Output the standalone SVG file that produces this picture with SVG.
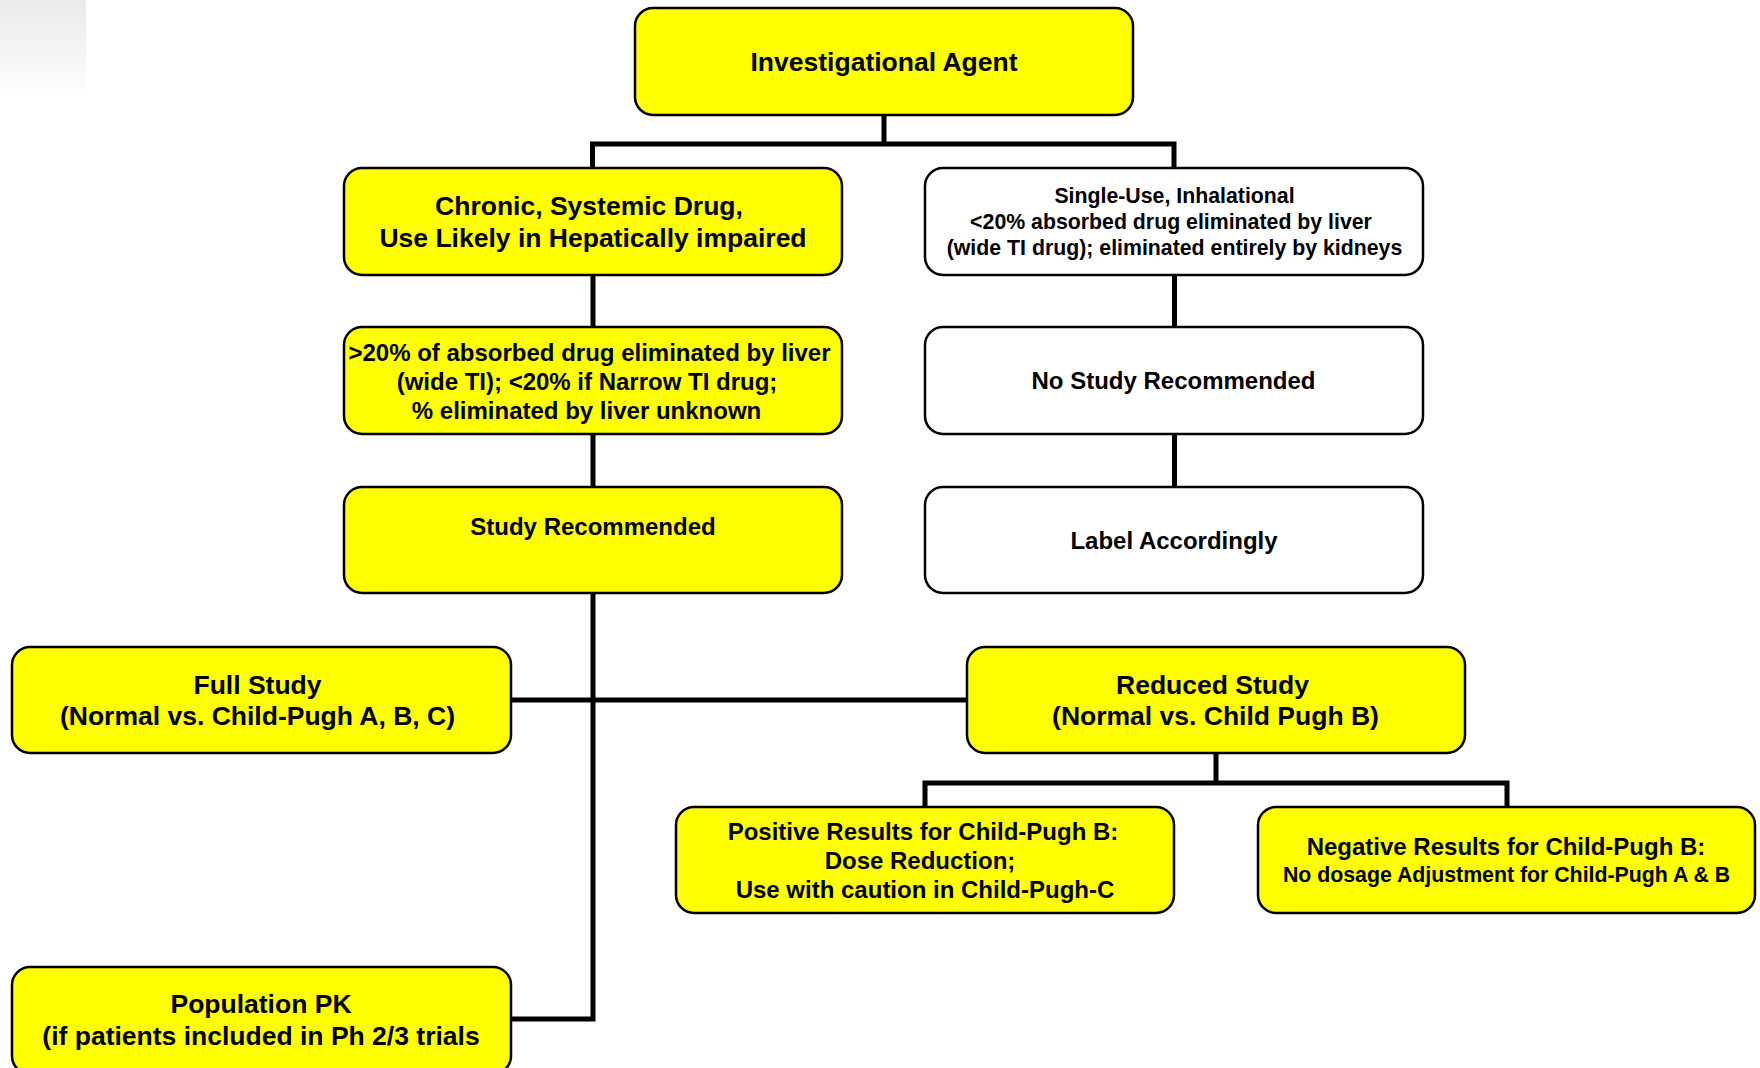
<svg xmlns="http://www.w3.org/2000/svg" width="1760" height="1068" viewBox="0 0 1760 1068">
<defs>
<linearGradient id="corner" x1="0" y1="0" x2="0" y2="1">
<stop offset="0" stop-color="#eaeaea"/>
<stop offset="1" stop-color="#ffffff"/>
</linearGradient>
</defs>
<style>
.box{stroke:#000;stroke-width:2.5}
.y{fill:#ffff00}
.w{fill:#ffffff}
.t{font-family:"Liberation Sans",Arial,sans-serif;font-weight:bold;fill:#000;text-anchor:middle}
.L{font-size:26.5px}
.M{font-size:24px}
.S{font-size:21.3px}
.conn{stroke:#000;stroke-width:5;fill:none;stroke-linecap:butt;stroke-linejoin:miter}
</style>
<rect x="0" y="0" width="86" height="100" fill="url(#corner)"/>
<g id="connectors" class="conn">
<path d="M884 115V144M590 144H1176.5M592.5 141.5V168M1174 141.5V168"/>
<path d="M593 275V327M593 434V487M593 593V1021.5M511 1019H595.5M511 700H967"/>
<path d="M1174.5 275V327M1174.5 434V487"/>
<path d="M1216 753V783M922.5 783H1509.5M925 780.5V807M1507 780.5V807"/>
</g>
<g id="n-agent"><rect class="box y" x="635" y="8" width="498" height="107" rx="18"/>
<text class="t L" x="884" y="71">Investigational Agent</text></g>
<g id="n-chronic"><rect class="box y" x="344" y="168" width="498" height="107" rx="18"/>
<text class="t L" x="589" y="215">Chronic, Systemic Drug,</text>
<text class="t L" x="593" y="247">Use Likely in Hepatically impaired</text></g>
<g id="n-single"><rect class="box w" x="925" y="168" width="498" height="107" rx="18"/>
<text class="t S" x="1174.5" y="203">Single-Use, Inhalational</text>
<text class="t S" x="1171" y="229">&lt;20% absorbed drug eliminated by liver</text>
<text class="t S" x="1174.5" y="255">(wide TI drug); eliminated entirely by kidneys</text></g>
<g id="n-liver"><rect class="box y" x="344" y="327" width="498" height="107" rx="18"/>
<text class="t M" x="589.5" y="361">&gt;20% of absorbed drug eliminated by liver</text>
<text class="t M" x="587" y="390">(wide TI); &lt;20% if Narrow TI drug;</text>
<text class="t M" x="586.5" y="419">% eliminated by liver unknown</text></g>
<g id="n-nostudy"><rect class="box w" x="925" y="327" width="498" height="107" rx="18"/>
<text class="t M" x="1173.5" y="389">No Study Recommended</text></g>
<g id="n-study"><rect class="box y" x="344" y="487" width="498" height="106" rx="18"/>
<text class="t M" x="593" y="535">Study Recommended</text></g>
<g id="n-label"><rect class="box w" x="925" y="487" width="498" height="106" rx="18"/>
<text class="t M" x="1174" y="549">Label Accordingly</text></g>
<g id="n-full"><rect class="box y" x="12" y="647" width="499" height="106" rx="18"/>
<text class="t L" x="257.5" y="694">Full Study</text>
<text class="t L" x="257.5" y="725">(Normal vs. Child-Pugh A, B, C)</text></g>
<g id="n-reduced"><rect class="box y" x="967" y="647" width="498" height="106" rx="18"/>
<text class="t L" x="1212.5" y="694">Reduced Study</text>
<text class="t L" x="1215.5" y="725">(Normal vs. Child Pugh B)</text></g>
<g id="n-positive"><rect class="box y" x="676" y="807" width="498" height="106" rx="18"/>
<text class="t M" x="923" y="840">Positive Results for Child-Pugh B:</text>
<text class="t M" x="920" y="869">Dose Reduction;</text>
<text class="t M" x="925" y="898">Use with caution in Child-Pugh-C</text></g>
<g id="n-negative"><rect class="box y" x="1258" y="807" width="497" height="106" rx="18"/>
<text class="t M" x="1506" y="855">Negative Results for Child-Pugh B:</text>
<text class="t S" x="1506.5" y="882">No dosage Adjustment for Child-Pugh A &amp; B</text></g>
<g id="n-poppk"><rect class="box y" x="12" y="967" width="499" height="107" rx="18"/>
<text class="t L" x="261" y="1013">Population PK</text>
<text class="t L" x="261" y="1045">(if patients included in Ph 2/3 trials</text></g>
</svg>
